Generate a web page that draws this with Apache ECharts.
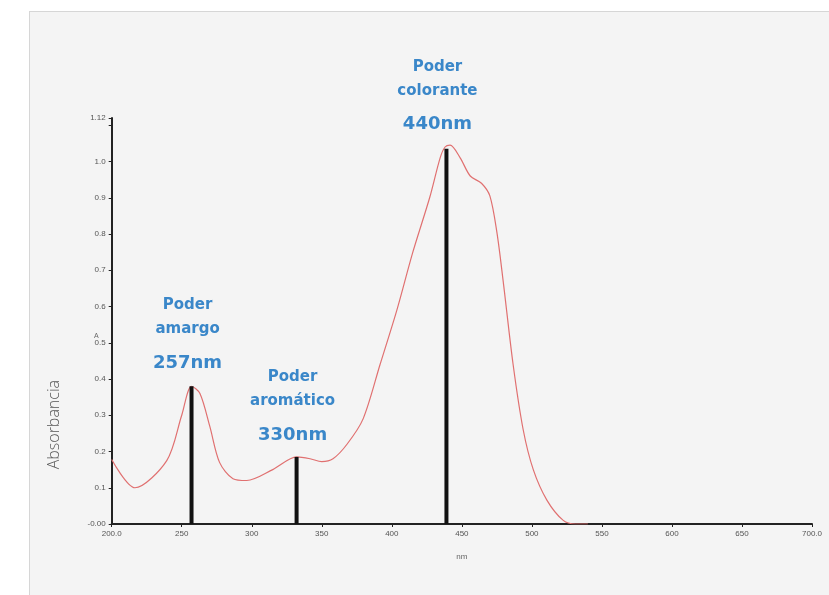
<!DOCTYPE html>
<html>
<head>
    <meta charset="utf-8">
    <title>Absorbancia</title>
    <script src="https://cdn.jsdelivr.net/npm/echarts@6/dist/echarts.min.js"></script>
    <style>
        html, body { margin: 0; padding: 0; background: #fff; }
        #panel {
            position: absolute; left: 29px; top: 11px; width: 800px; height: 584px;
            background: #f4f4f4; border-left: 1px solid #d6d6d6; border-top: 1px solid #d6d6d6;
        }
        #main { position: absolute; left: 0; top: 0; width: 829px; height: 595px; }
    </style>
</head>
<body>
<div id="panel"></div>
<div id="main"></div>
<script type="text/javascript">
    // espectro (nm, absorbancia)
    var wavelengths = [200, 216.6, 239.3, 250, 257, 263, 270, 277, 286.6, 296.4, 315, 332, 341.6, 350, 358, 368,
        379.5, 391.6, 403.6, 415, 427, 434.5, 438, 441.6, 448.8, 456, 464, 470, 475, 479.5, 486.6, 493.8,
        501, 510.7, 522.4, 531, 540];
    var absorbance = [0.178, 0.10, 0.175, 0.30, 0.38, 0.36, 0.27, 0.17, 0.125, 0.12, 0.15, 0.185, 0.18, 0.172, 0.18, 0.22,
        0.29, 0.44, 0.59, 0.75, 0.90, 1.01, 1.04, 1.045, 1.01, 0.96, 0.94, 0.905, 0.805, 0.67, 0.44, 0.26,
        0.15, 0.066, 0.01, 0.0, 0.0];

    // lineas de los picos
    var peakNm = [257, 332, 439];
    var peakAbs = [0.38, 0.185, 1.035];
    var peakName = [['Poder', 'amargo'], ['Poder', 'aromático'], ['Poder', 'colorante']];
    var peakLabel = ['257nm', '330nm', '440nm'];

    var xTicks = {200: '200.0', 700: '700.0'};

    var myChart = echarts.init(document.getElementById('main'));

    var curve = wavelengths.map(function (w, i) { return [w, absorbance[i]]; });
    var offsets = [[-4, 4], [-4, 5], [-9, 3]];
    var bars = peakNm.map(function (w, i) {
        return {
            value: [w, peakAbs[i]],
            label: {
                offset: offsets[i],
                formatter: '{a|' + peakName[i][0] + '}\n{a|' + peakName[i][1] + '}\n{b|' + peakLabel[i] + '}'
            }
        };
    });

    var option = {
        animation: false,
        grid: { left: 111.7, right: 17, top: 118, bottom: 71 },
        xAxis: {
            type: 'value',
            min: 200, max: 700, interval: 50,
            name: 'nm', nameLocation: 'middle', nameGap: 29,
            nameTextStyle: { fontSize: 8, color: '#666' },
            splitLine: { show: false },
            axisLine: { lineStyle: { color: '#222', width: 2 } },
            axisTick: { length: 3, lineStyle: { color: '#222' } },
            axisLabel: {
                fontSize: 8, color: '#555', margin: 6,
                formatter: function (v) { return xTicks[v] || String(v); }
            }
        },
        yAxis: {
            type: 'value',
            min: 0, max: 1.12, interval: 0.1,
            splitLine: { show: false },
            axisLine: { lineStyle: { color: '#222', width: 2 } },
            axisTick: { length: 3, lineStyle: { color: '#222' } },
            axisLabel: {
                fontSize: 8, color: '#555', margin: 6,
                formatter: function (v) {
                    if (v === 0) return '-0.00';
                    if (Math.abs(v - 1.12) < 1e-6) return '1.12';
                    if (Math.abs(v - 1.1) < 1e-6) return '';
                    return v.toFixed(1);
                }
            }
        },
        graphic: [
            {
                type: 'text', left: 46, top: 380, rotation: Math.PI / 2,
                style: { text: 'Absorbancia', fontSize: 16, fill: '#555', fontFamily: 'Open Sans', fontWeight: 300 }
            },
            {
                type: 'text', left: 94, top: 333,
                style: { text: 'A', fontSize: 7, fill: '#666' }
            }
        ],
        series: [
            {
                type: 'line',
                data: curve,
                smooth: 0.3,
                showSymbol: false,
                lineStyle: { color: '#e07070', width: 1.2 },
                z: 3
            },
            {
                type: 'bar',
                data: bars,
                barWidth: 4,
                itemStyle: { color: '#111' },
                label: {
                    show: true,
                    position: 'top',
                    align: 'center',
                    rich: {
                        a: { fontSize: 15, lineHeight: 24, color: '#3a87c9', fontWeight: 'bold', fontFamily: 'DejaVu Sans' },
                        b: { fontSize: 18, lineHeight: 44, color: '#3a87c9', fontWeight: 'bold', fontFamily: 'DejaVu Sans' }
                    }
                },
                z: 4
            }
        ]
    };
    myChart.setOption(option);
</script>
</body>
</html>
